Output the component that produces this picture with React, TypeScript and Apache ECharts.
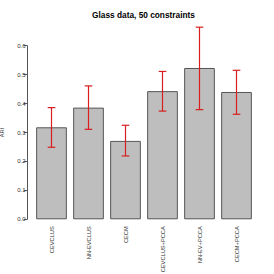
import React, { useEffect, useRef } from "react";
import * as echarts from "echarts";

const categories = ["CEVCLUS", "NN-EVCLUS", "CECM", "CEVCLUS+PCCA", "NN-EV+PCCA", "CECM+PCCA"];
const means = [0.318, 0.386, 0.271, 0.443, 0.523, 0.44];
const lower = [0.249, 0.311, 0.219, 0.374, 0.379, 0.363];
const upper = [0.386, 0.461, 0.325, 0.511, 0.664, 0.515];
const yTicks = [0, 0.1, 0.2, 0.3, 0.4, 0.5, 0.6];

export default function App() {
  const ref = useRef<HTMLDivElement>(null);
  useEffect(() => {
    const chart = echarts.init(ref.current!, null, { renderer: "svg" });
    const font = "Liberation Sans, Arial, Helvetica, sans-serif";
    chart.setOption({
      animation: false,
      backgroundColor: "#ffffff",
      graphic: [
        {
          type: "text",
          x: 143.5,
          y: 14.5,
          style: {
            text: "Glass data, 50 constraints",
            font: `bold 8.3px ${font}`,
            fill: "#000",
            textAlign: "center",
            textVerticalAlign: "middle",
          },
        },
      ],
      grid: {
        left: 33,
        width: 222,
        top: 45.7,
        bottom: 54.7,
        containLabel: false,
        outerBoundsMode: "none",
      },
      xAxis: {
        type: "category",
        data: categories,
        axisLine: { show: false },
        axisTick: { show: false },
        axisLabel: {
          rotate: 90,
          fontSize: 5.7,
          fontFamily: font,
          color: "#333",
          margin: 7,
          interval: 0,
        },
      },
      yAxis: {
        type: "value",
        min: yTicks[0],
        max: yTicks[yTicks.length - 1],
        interval: 0.1,
        offset: 6,
        name: "ARI",
        nameLocation: "middle",
        nameRotate: 90,
        nameGap: 22,
        nameTextStyle: { fontSize: 5.7, fontFamily: font, color: "#333" },
        splitLine: { show: false },
        axisLine: { show: true, lineStyle: { color: "#555", width: 1 } },
        axisTick: { show: true, length: 3.3, lineStyle: { color: "#555" } },
        axisLabel: {
          fontSize: 6,
          fontFamily: font,
          color: "#333",
          margin: 1.5,
          formatter: (v: number) => v.toFixed(1),
        },
      },
      series: [
        {
          type: "bar",
          z: 2,
          data: means,
          barCategoryGap: "17%",
          itemStyle: { color: "#bebebe", borderColor: "#555", borderWidth: 1 },
        },
        {
          type: "custom",
          z: 10,
          clip: false,
          data: categories.map((_, i) => [i, lower[i], upper[i]]),
          renderItem: (params: any, api: any) => {
            const x = api.value(0);
            const lo = api.coord([x, api.value(1)]);
            const hi = api.coord([x, api.value(2)]);
            const hw = 3.8;
            const style = { stroke: "#d81e1e", lineWidth: 1.2 };
            return {
              type: "group",
              children: [
                { type: "line", z2: 10, shape: { x1: lo[0], y1: lo[1], x2: hi[0], y2: hi[1] }, style },
                { type: "line", z2: 10, shape: { x1: lo[0] - hw, y1: lo[1], x2: lo[0] + hw, y2: lo[1] }, style },
                { type: "line", z2: 10, shape: { x1: hi[0] - hw, y1: hi[1], x2: hi[0] + hw, y2: hi[1] }, style },
              ],
            };
          },
        },
      ],
    });
    return () => chart.dispose();
  }, []);
  return <div ref={ref} style={{ width: 274, height: 274, position: "absolute", left: 0, top: 0 }} />;
}
